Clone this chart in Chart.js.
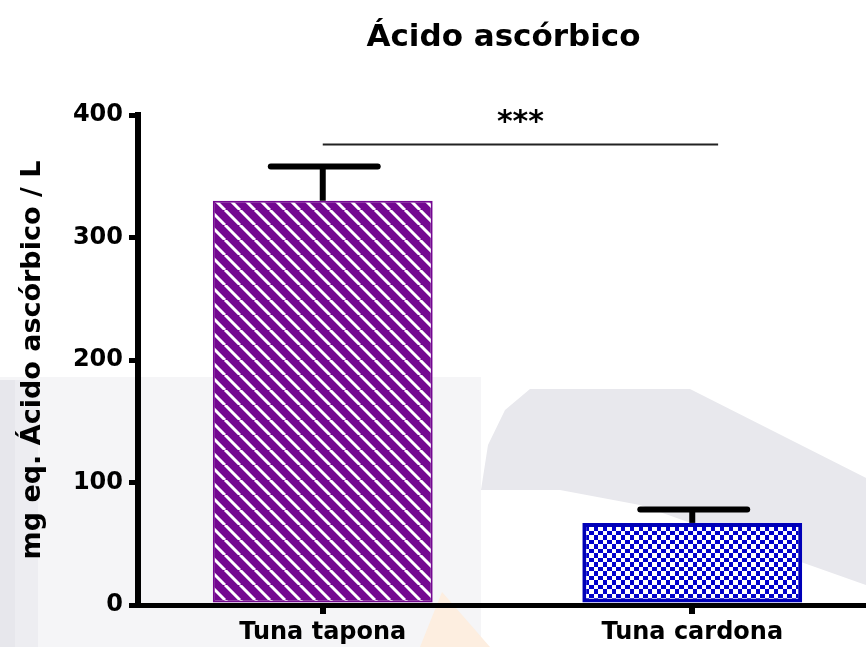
<!DOCTYPE html>
<html>
<head>
<meta charset="utf-8">
<script src="https://cdn.jsdelivr.net/npm/chart.js@4.4.1/dist/chart.umd.min.js"></script>
<style>
  html, body { margin: 0; padding: 0; background: #ffffff; overflow: hidden; }
  #wrap { position: absolute; left: 0; top: 0; width: 880px; height: 647px; }
</style>
</head>
<body>
<div id="wrap"><canvas id="c"></canvas></div>
<script>
// ---- data ----
const chartTitle = 'Ácido ascórbico';
const yAxisTitle = 'mg eq. Ácido ascórbico / L';
const categories = ['Tuna tapona', 'Tuna cardona'];
const meanValues = [330, 67];
const errorValues = [28, 11];
const yTickValues = [0, 100, 200, 300, 400];
const sigLabel = '***';
const sigSpan = [0, 1.07];
const sigLevel = 376;

const FONT = "'DejaVu Sans', 'Liberation Sans', Arial, sans-serif";

// ---- fill patterns ----
function stripePattern() {
  const P = 15;
  const c = document.createElement('canvas');
  c.width = P; c.height = P;
  const g = c.getContext('2d');
  g.fillStyle = '#740891';
  g.fillRect(0, 0, P, P);
  g.strokeStyle = '#ffffff';
  g.lineWidth = 3;
  g.beginPath();
  for (const k of [-P, 0, P]) { g.moveTo(k, 0); g.lineTo(k + P, P); }
  g.stroke();
  return g.createPattern(c, 'repeat');
}
function checkerPattern() {
  const c = document.createElement('canvas');
  c.width = 9; c.height = 9;
  const g = c.getContext('2d');
  g.fillStyle = '#0000cc';
  g.fillRect(0, 0, 9, 9);
  g.fillStyle = '#ffffff';
  g.fillRect(0, 0, 4, 4);
  g.fillRect(4, 4, 5, 5);
  return g.createPattern(c, 'repeat');
}

// ---- faint background watermark ----
const watermark = {
  id: 'watermark',
  beforeDraw(chart) {
    const ctx = chart.ctx;
    ctx.save();
    ctx.fillStyle = '#f5f5f7';
    ctx.fillRect(0, 377, 481, 270);
    ctx.fillStyle = '#ededf1';
    ctx.fillRect(0, 380, 38, 267);
    ctx.fillStyle = '#e7e7ec';
    ctx.fillRect(0, 380, 15, 267);
    // upper swoosh
    ctx.fillStyle = '#e8e8ed';
    ctx.beginPath();
    ctx.moveTo(481, 490);
    ctx.lineTo(488, 445);
    ctx.lineTo(505, 410);
    ctx.lineTo(530, 389);
    ctx.lineTo(690, 389);
    ctx.lineTo(880, 485);
    ctx.lineTo(880, 590);
    ctx.lineTo(640, 505);
    ctx.lineTo(560, 490);
    ctx.closePath();
    ctx.fill();
    // faint orange triangle
    ctx.fillStyle = '#fdeee0';
    ctx.beginPath();
    ctx.moveTo(420, 647);
    ctx.lineTo(442, 592);
    ctx.lineTo(490, 647);
    ctx.closePath();
    ctx.fill();
    ctx.restore();
  }
};

// ---- error bars, significance bracket, title ----
const overlay = {
  id: 'overlay',
  afterDatasetsDraw(chart) {
    const ctx = chart.ctx;
    const ys = chart.scales.y, xs = chart.scales.x;
    const meta = chart.getDatasetMeta(0);
    ctx.save();
    ctx.strokeStyle = '#000';
    ctx.lineWidth = 6;
    meta.data.forEach((bar, i) => {
      const top = ys.getPixelForValue(meanValues[i] + errorValues[i]);
      const half = bar.width / 4;
      ctx.lineCap = 'butt';
      ctx.beginPath();
      ctx.moveTo(bar.x, bar.y);
      ctx.lineTo(bar.x, top);
      ctx.stroke();
      ctx.lineCap = 'round';
      ctx.beginPath();
      ctx.moveTo(bar.x - half + 3, top);
      ctx.lineTo(bar.x + half, top);
      ctx.stroke();
    });
    // significance line
    const x1 = xs.getPixelForValue(sigSpan[0]);
    const x2 = xs.getPixelForValue(sigSpan[1]);
    const yl = ys.getPixelForValue(sigLevel);
    ctx.lineCap = 'butt';
    ctx.strokeStyle = '#222';
    ctx.lineWidth = 2;
    ctx.beginPath();
    ctx.moveTo(x1, yl);
    ctx.lineTo(x2, yl);
    ctx.stroke();
    ctx.fillStyle = '#000';
    ctx.textAlign = 'center';
    ctx.textBaseline = 'alphabetic';
    ctx.font = 'bold 30px ' + FONT;
    ctx.fillText(sigLabel, (x1 + x2) / 2, yl - 13);
    // chart title
    const ca = chart.chartArea;
    ctx.font = 'bold 31px ' + FONT;
    ctx.fillText(chartTitle, (ca.left + ca.right) / 2 - 4, 46);
    ctx.restore();
  }
};

new Chart(document.getElementById('c'), {
  type: 'bar',
  data: {
    labels: categories,
    datasets: [{
      data: meanValues,
      backgroundColor: [stripePattern(), checkerPattern()],
      borderColor: ['#740891', '#0000b8'],
      borderWidth: [2, 4],
      borderSkipped: false,
      barPercentage: 0.595,
      categoryPercentage: 1.0
    }]
  },
  options: {
    responsive: true,
    maintainAspectRatio: false,
    animation: false,
    events: [],
    layout: { padding: { top: 115, right: 3, bottom: 0, left: 0 } },
    plugins: { legend: { display: false }, title: { display: false }, tooltip: { enabled: false } },
    scales: {
      x: {
        offset: true,
        grid: { display: true, drawOnChartArea: false, drawTicks: true, offset: false,
                tickLength: 9, tickWidth: 6, tickColor: '#000', lineWidth: 6, color: '#000' },
        border: { display: true, color: '#000', width: 5 },
        ticks: { color: '#000', font: { family: FONT, weight: 'bold', size: 24 }, padding: 4, maxRotation: 0, autoSkip: false },
        afterFit: (s) => { s.height = 42; }
      },
      y: {
        min: 0, max: 400,
        afterBuildTicks: (s) => { s.ticks = yTickValues.map(v => ({ value: v })); },
        grid: { display: true, drawOnChartArea: false, drawTicks: true,
                tickLength: 9, tickWidth: 5, tickColor: '#000', lineWidth: 5, color: '#000' },
        border: { display: true, color: '#000', width: 6 },
        ticks: { color: '#000', font: { family: FONT, weight: 'bold', size: 24 }, padding: 6 },
        title: { display: true, text: yAxisTitle, color: '#000',
                 font: { family: FONT, weight: 'bold', size: 27 }, padding: { top: 17, bottom: 0 } },
        afterFit: (s) => { s.width = 138; }
      }
    }
  },
  plugins: [watermark, overlay]
});
</script>
</body>
</html>
